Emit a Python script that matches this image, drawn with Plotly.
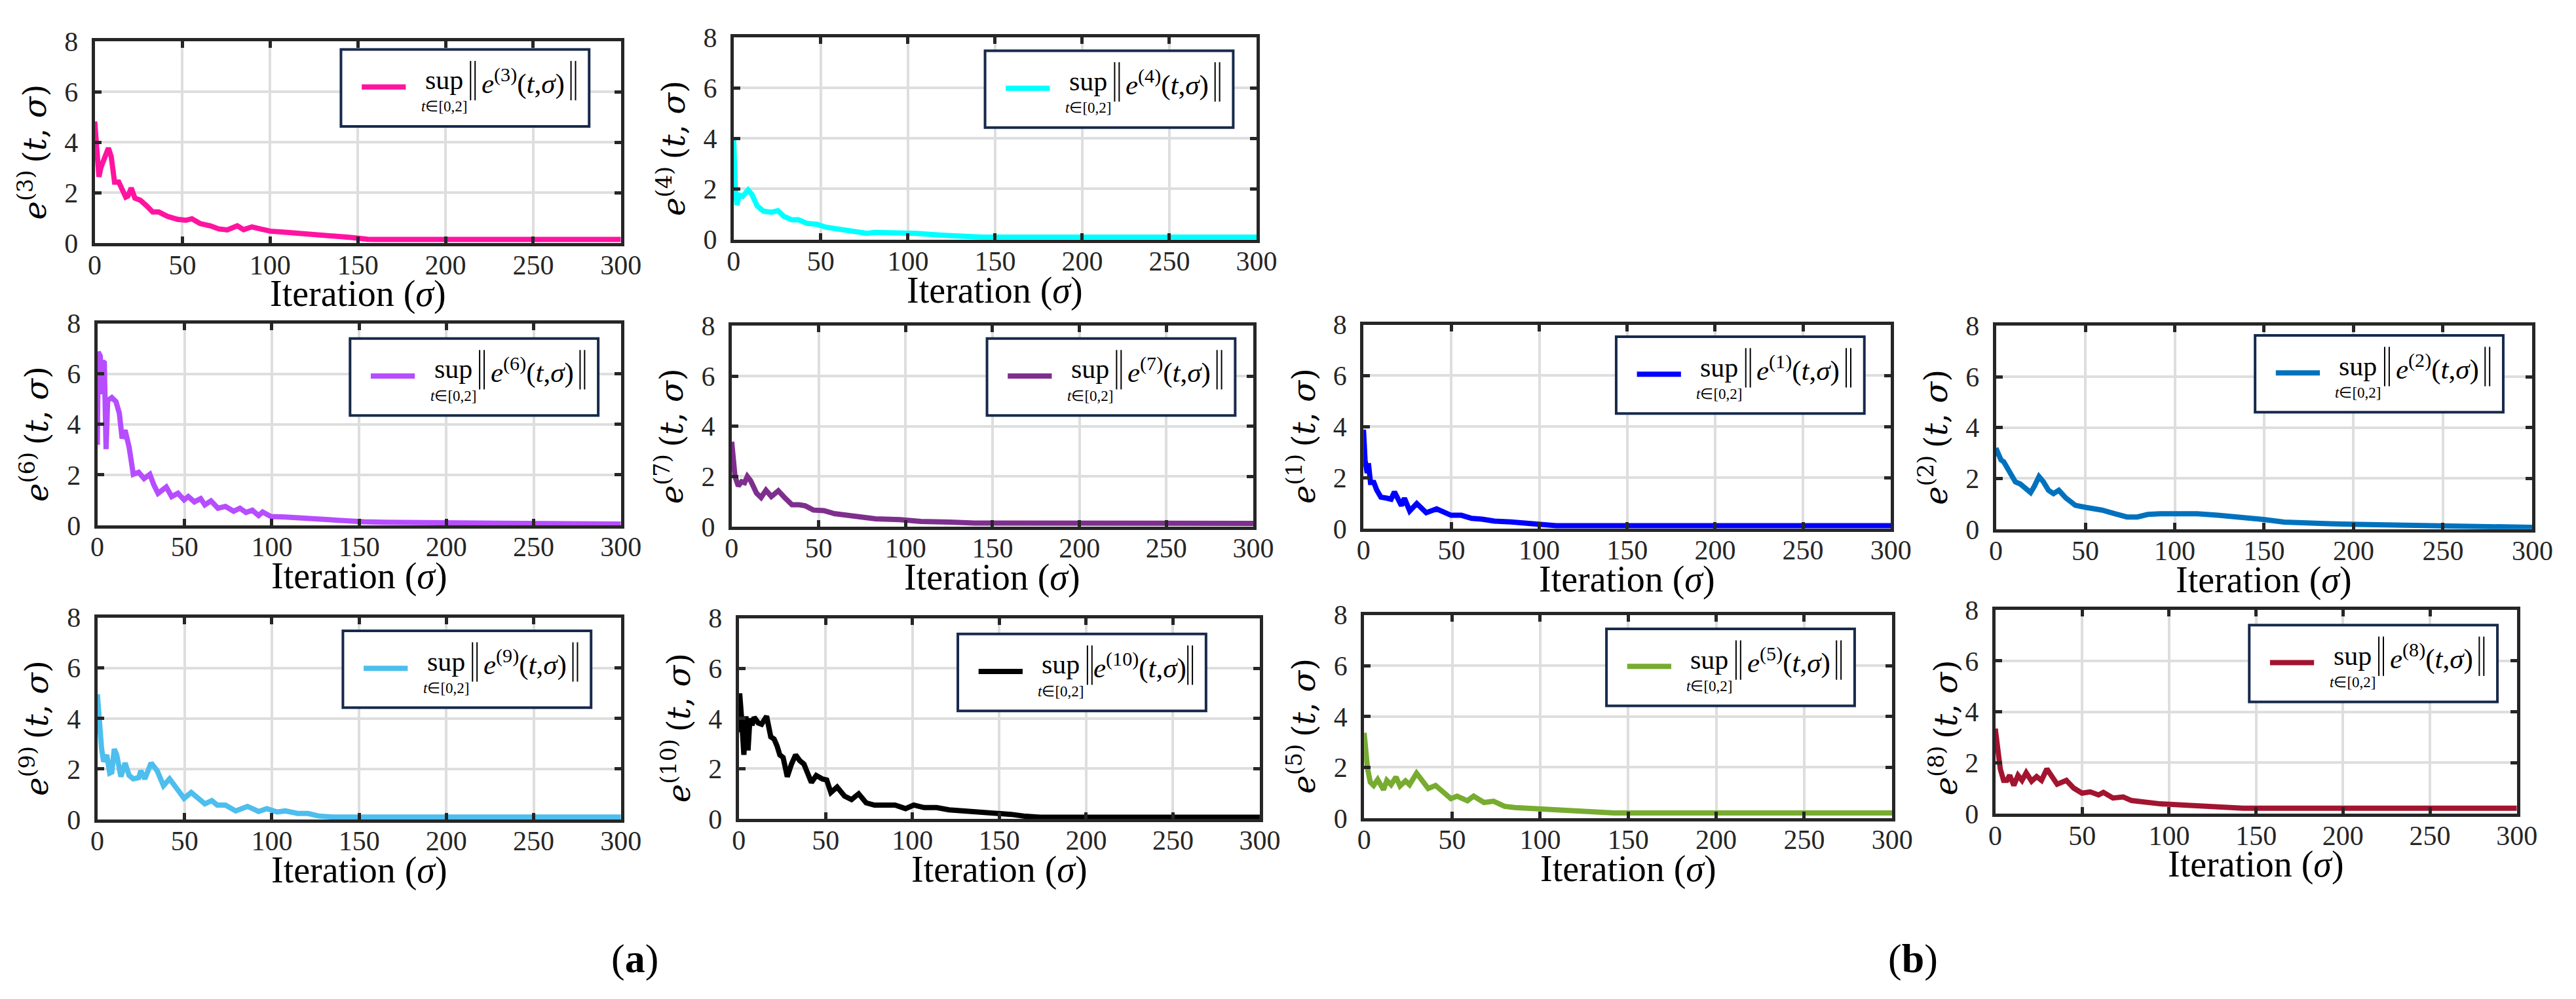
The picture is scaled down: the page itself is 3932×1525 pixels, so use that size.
import plotly.graph_objects as go

FIG_W = 3932
FIG_H = 1525

ITER_TICKS = [0, 50, 100, 150, 200, 250, 300]
ERR_TICKS = [0, 2, 4, 6, 8]

# (iteration, sup-norm error)
E1 = [(0, 3.88), (0.9, 2.68), (2.1, 2.18), (2.8, 2.56), (4, 1.81), (5.9, 1.81), (7.5, 1.52),
      (9.9, 1.23), (13.4, 1.19), (15.7, 1.15), (17.6, 1.44), (19.3, 1.19), (21.6, 0.90),
      (23.3, 1.19), (26.3, 0.69), (30.3, 0.98), (35.7, 0.62), (41.6, 0.77), (49.8, 0.52),
      (55.7, 0.52), (61.5, 0.40), (67.4, 0.37), (74.5, 0.29), (83.9, 0.26), (93.3, 0.19),
      (102.6, 0.12), (109.7, 0.11), (300, 0.11)]
E2 = [(0, 3.19), (1.6, 2.98), (2.8, 2.73), (4.4, 2.65), (7.4, 2.32), (10.9, 1.86), (13.6, 1.78),
      (16.7, 1.61), (19.4, 1.44), (21.5, 1.69), (24.1, 2.07), (26.6, 1.86), (29.4, 1.53),
      (32.2, 1.40), (35.2, 1.53), (39.1, 1.23), (44.4, 0.94), (50.2, 0.86), (59.4, 0.75),
      (66.4, 0.61), (73.3, 0.48), (79.1, 0.48), (84.9, 0.58), (91.8, 0.61), (101.1, 0.63),
      (112.6, 0.61), (124.2, 0.55), (138.1, 0.47), (149.7, 0.38), (161.2, 0.28), (172.8, 0.23),
      (184.3, 0.22), (202.8, 0.19), (219, 0.17), (235.2, 0.15), (251.4, 0.11), (270, 0.08),
      (300, 0.07)]
E3 = [(0, 4.82), (0.7, 4.15), (1.6, 4.0), (2.4, 2.63), (3.5, 3.0), (5.9, 3.5), (7.8, 3.77),
      (9.4, 3.43), (11.3, 2.42), (13.7, 2.42), (15.3, 2.17), (17.7, 1.83), (18.9, 1.87),
      (20.8, 2.19), (22.9, 1.79), (25.9, 1.71), (29.5, 1.49), (33, 1.24), (36.5, 1.24),
      (41.3, 1.07), (47.2, 0.95), (51.9, 0.91), (55.4, 0.97), (60.1, 0.78), (66, 0.69),
      (70.7, 0.57), (75.5, 0.53), (81.3, 0.69), (84.9, 0.54), (89.6, 0.65), (94.3, 0.57),
      (100.2, 0.48), (108.5, 0.44), (117.9, 0.40), (127.3, 0.36), (136.8, 0.27), (146.2, 0.23),
      (155.6, 0.16), (160.3, 0.15), (300, 0.15)]
E4 = [(0, 4.05), (0.2, 2.84), (1, 2.0), (1.9, 1.37), (3.3, 1.75), (5.2, 1.71), (8.3, 1.96),
      (10.4, 1.79), (13.5, 1.33), (17.1, 1.12), (21.8, 1.08), (25.4, 1.14), (28.9, 0.91),
      (33.2, 0.78), (37.2, 0.78), (42, 0.64), (47.9, 0.60), (52.7, 0.49), (59.8, 0.41),
      (69.3, 0.30), (76.4, 0.24), (81.1, 0.28), (95.4, 0.28), (104.8, 0.24), (119.1, 0.17),
      (133.3, 0.11), (142.8, 0.09), (300, 0.09)]
E5 = [(0, 3.36), (0.7, 2.56), (1.9, 1.97), (3.5, 1.42), (5.4, 1.29), (7.7, 1.52), (9.4, 1.32),
      (11, 1.12), (12.9, 1.49), (15.3, 1.32), (18.1, 1.62), (20.4, 1.27), (23.5, 1.47),
      (25.8, 1.32), (29.8, 1.77), (32.9, 1.47), (36.4, 1.17), (40.6, 1.29), (43.9, 1.07),
      (49.3, 0.77), (52.8, 0.87), (58.7, 0.69), (62.2, 0.87), (68.1, 0.62), (73.5, 0.67),
      (79.8, 0.47), (85.7, 0.42), (95, 0.39), (104.4, 0.35), (118.5, 0.29), (132.6, 0.25),
      (142, 0.21), (300, 0.21)]
E6 = [(0, 3.19), (0.5, 6.87), (1.7, 6.7), (2.4, 5.19), (3.1, 6.48), (4, 6.44), (5, 3.02),
      (5.9, 4.94), (8.3, 5.06), (10.7, 4.9), (12.6, 4.44), (14.2, 3.44), (15.9, 3.77),
      (18.2, 3.1), (20.6, 2.02), (23.7, 2.1), (26.8, 1.85), (30.1, 2.02), (32.4, 1.6),
      (34.8, 1.27), (39.5, 1.52), (42.6, 1.14), (46.2, 1.27), (49.7, 1.01), (52.1, 1.14),
      (55.6, 0.93), (59.2, 1.06), (61.6, 0.81), (65.1, 0.97), (69.1, 0.68), (73.4, 0.75),
      (78.1, 0.56), (81.7, 0.68), (85.2, 0.51), (88.8, 0.60), (92.4, 0.39), (94.7, 0.53),
      (99.5, 0.35), (107.7, 0.33), (117.2, 0.28), (129, 0.22), (140.9, 0.18), (152.7, 0.14),
      (164.6, 0.12), (188, 0.10), (212, 0.09), (247, 0.07), (300, 0.05)]
E7 = [(0, 3.38), (0.9, 2.84), (1.9, 2.0), (3.8, 1.62), (5.7, 1.79), (7.4, 1.75), (9, 2.0),
      (10.9, 1.83), (14.3, 1.33), (16.9, 1.16), (19.7, 1.45), (22.8, 1.20), (26.8, 1.43),
      (30.4, 1.16), (34.7, 0.87), (38.7, 0.87), (42.3, 0.83), (47, 0.66), (53, 0.64),
      (58.9, 0.52), (66, 0.47), (73.2, 0.38), (82.7, 0.31), (96.9, 0.28), (108.8, 0.21),
      (125.4, 0.18), (139.7, 0.14), (300, 0.13)]
E8 = [(0, 3.34), (1.2, 2.55), (2.9, 1.76), (4.8, 1.31), (6.7, 1.31), (8.3, 1.51), (10.7, 1.11),
      (13.1, 1.51), (15.4, 1.31), (17.8, 1.61), (20.9, 1.28), (23.8, 1.46), (26.6, 1.31),
      (29.7, 1.76), (32.1, 1.51), (35.6, 1.16), (40.9, 1.31), (45.1, 1.01), (49.9, 0.81),
      (54.6, 0.86), (59.4, 0.74), (62.2, 0.84), (67.7, 0.62), (73.6, 0.66), (78.4, 0.52),
      (86.7, 0.45), (95, 0.39), (106.9, 0.35), (118.8, 0.30), (130.6, 0.25), (142.5, 0.22),
      (300, 0.22)]
E9 = [(0, 4.96), (1.2, 3.74), (2.4, 2.83), (3.6, 2.29), (5.4, 2.56), (7.1, 1.84), (8.3, 1.88),
      (9.7, 2.79), (11.1, 2.56), (13.5, 1.70), (15.9, 2.24), (18.2, 1.75), (20.6, 1.61),
      (23.7, 1.66), (24.9, 1.93), (27.2, 1.61), (30.8, 2.24), (34.3, 1.93), (37.9, 1.34),
      (41.4, 1.61), (45, 1.29), (49.7, 0.84), (53.8, 1.07), (58, 0.80), (61.6, 0.62),
      (65.6, 0.75), (68.7, 0.57), (73.4, 0.57), (79.3, 0.34), (86, 0.52), (92.4, 0.32),
      (97.1, 0.43), (103, 0.30), (107.7, 0.34), (114.8, 0.24), (120.8, 0.24), (126.7, 0.14),
      (135, 0.10), (300, 0.10)]
E10 = [(0, 3.45), (0.5, 5.0), (1.7, 3.9), (2.9, 2.55), (4.1, 4.09), (5.3, 2.73), (6.4, 4.0),
       (7.6, 3.73), (8.8, 4.05), (11.2, 3.82), (13.1, 3.77), (16, 4.09), (18.4, 3.27),
       (20.3, 3.18), (22, 2.91), (23.6, 2.55), (25.5, 2.45), (27.9, 1.68), (30.3, 2.18),
       (32.7, 2.55), (35.1, 2.32), (37.5, 2.18), (41.8, 1.45), (44.6, 1.73), (48.2, 1.59),
       (50.6, 1.55), (53, 1.05), (56.6, 1.27), (60.9, 0.91), (64.9, 0.77), (69, 1.0),
       (73.3, 0.64), (78.1, 0.55), (84, 0.53), (90, 0.55), (96, 0.41), (100.7, 0.55),
       (106.7, 0.45), (113.9, 0.45), (121, 0.36), (130.6, 0.32), (140.1, 0.25), (149.7, 0.23),
       (156.8, 0.18), (164, 0.11), (173.5, 0.07), (300, 0.07)]

# panel order: (a) column then (b) columns, row by row
PANEL_SERIES = [3, 4, 6, 7, 1, 2, 9, 10, 5, 8]
SERIES_DATA = {1: E1, 2: E2, 3: E3, 4: E4, 5: E5, 6: E6, 7: E7, 8: E8, 9: E9, 10: E10}
SERIES_COLOR = {
    1: "#0000ff", 2: "#0072bd", 3: "#ff14a0", 4: "#00ffff", 5: "#77ac30",
    6: "#b64dff", 7: "#7e2f8e", 8: "#a2142f", 9: "#4dbeee", 10: "#000000",
}

# plot boxes in page pixels: left, right, top, bottom
AXES_PX = [
    (127, 939, 34, 352), (1113, 1920, 28, 346),
    (131, 939, 478, 796), (1110, 1915, 482, 798), (2085, 2899, 480, 801), (3061, 3889, 482, 802),
    (131, 939, 941, 1259), (1121, 1925, 942, 1258), (2086, 2901, 937, 1257), (3060, 3865, 929, 1250),
]
# top-left corner of each legend box, page pixels
LEGEND_PX = [
    (507, 47), (1501, 49),
    (521, 502), (1504, 502), (2475, 499), (3461, 497),
    (510, 962), (1459, 967), (2460, 959), (3452, 953),
]
LEGEND_W = 383
LEGEND_H = 121

AXIS_COLOR = "#262626"
GRID_COLOR = "#dedede"
LEGEND_EDGE = "#172a4c"
SERIF = "Liberation Serif"


def px_x(x):
    return x / FIG_W


def px_y(y):
    return 1 - y / FIG_H


def add_text(fig, x, y, text, family=SERIF, size=40, angle=0):
    fig.add_annotation(x=px_x(x), y=px_y(y), xref="paper", yref="paper",
                       xanchor="center", yanchor="middle", showarrow=False,
                       text=text, textangle=angle,
                       font=dict(family=family, size=size, color="black"))


def add_legend(fig, left, top, n, color):
    shapes = [
        dict(type="rect", x0=px_x(left), x1=px_x(left + LEGEND_W), y0=px_y(top), y1=px_y(top + LEGEND_H),
             line=dict(color=LEGEND_EDGE, width=4), fillcolor="white"),
        dict(type="line", x0=px_x(left + 32), x1=px_x(left + 100), y0=px_y(top + 59), y1=px_y(top + 59),
             line=dict(color=color, width=8)),
    ]
    for bx in (200, 207, 355, 362):
        shapes.append(dict(type="line", x0=px_x(left + bx), x1=px_x(left + bx),
                           y0=px_y(top + 18), y1=px_y(top + 80), line=dict(color="black", width=2)))
    for s in shapes:
        s.update(xref="paper", yref="paper", layer="above")
        fig.add_shape(**s)

    add_text(fig, left + 159, top + 48, "sup", size=42)
    add_text(fig, left + 159, top + 90, "<i>t</i>∈[0,2]", size=23)
    add_text(fig, left + 281, top + 50, f"<i>e</i><sup>({n})</sup>(<i>t</i>,<i>σ</i>)", size=43)


fig = go.Figure()
layout_axes = {}

for i, n in enumerate(PANEL_SERIES):
    k = i + 1
    xname = "x" if k == 1 else f"x{k}"
    yname = "y" if k == 1 else f"y{k}"
    pts = SERIES_DATA[n]
    fig.add_trace(go.Scatter(
        x=[p[0] for p in pts], y=[p[1] for p in pts],
        mode="lines", line=dict(color=SERIES_COLOR[n], width=8),
        xaxis=xname, yaxis=yname, showlegend=False, hoverinfo="skip",
    ))

    l, r, t, b = AXES_PX[i]
    common = dict(
        ticks="inside", ticklen=10, tickwidth=5, tickcolor=AXIS_COLOR,
        showline=True, linewidth=5, linecolor=AXIS_COLOR, mirror="ticks",
        showgrid=True, gridcolor=GRID_COLOR, gridwidth=4, zeroline=False,
        tickfont=dict(family=SERIF, size=42, color=AXIS_COLOR),
        fixedrange=True,
    )
    layout_axes["xaxis" if k == 1 else f"xaxis{k}"] = dict(
        common, domain=[px_x(l), px_x(r)], range=[0, 300], tickvals=ITER_TICKS,
        anchor=yname, ticklabelstandoff=-8,
    )
    layout_axes["yaxis" if k == 1 else f"yaxis{k}"] = dict(
        common, domain=[px_y(b), px_y(t)], range=[0, 8], tickvals=ERR_TICKS,
        anchor=xname, ticklabelstandoff=12,
    )

    # axis titles
    add_text(fig, (l + r) / 2, b + 80, "Iteration (<i>σ</i>)", size=56)
    dx, dy = (-80, 25) if n == 8 else (-96, 15)
    add_text(fig, l + dx, (t + b) / 2 + dy,
             f"<i>e</i><sup>({n}) </sup>(<i>t</i>, <i>σ</i>)",
             family="DejaVu Serif", size=48, angle=-90)

    add_legend(fig, LEGEND_PX[i][0], LEGEND_PX[i][1], n, SERIES_COLOR[n])

for lbl, cx in (("a", 960), ("b", 2933)):
    add_text(fig, cx, 1478, f"(<b>{lbl}</b>)", size=62)

fig.update_layout(
    width=FIG_W, height=FIG_H,
    margin=dict(l=0, r=0, t=0, b=0),
    paper_bgcolor="white", plot_bgcolor="white",
    showlegend=False,
    **layout_axes,
)

fig.write_html("out.html")
